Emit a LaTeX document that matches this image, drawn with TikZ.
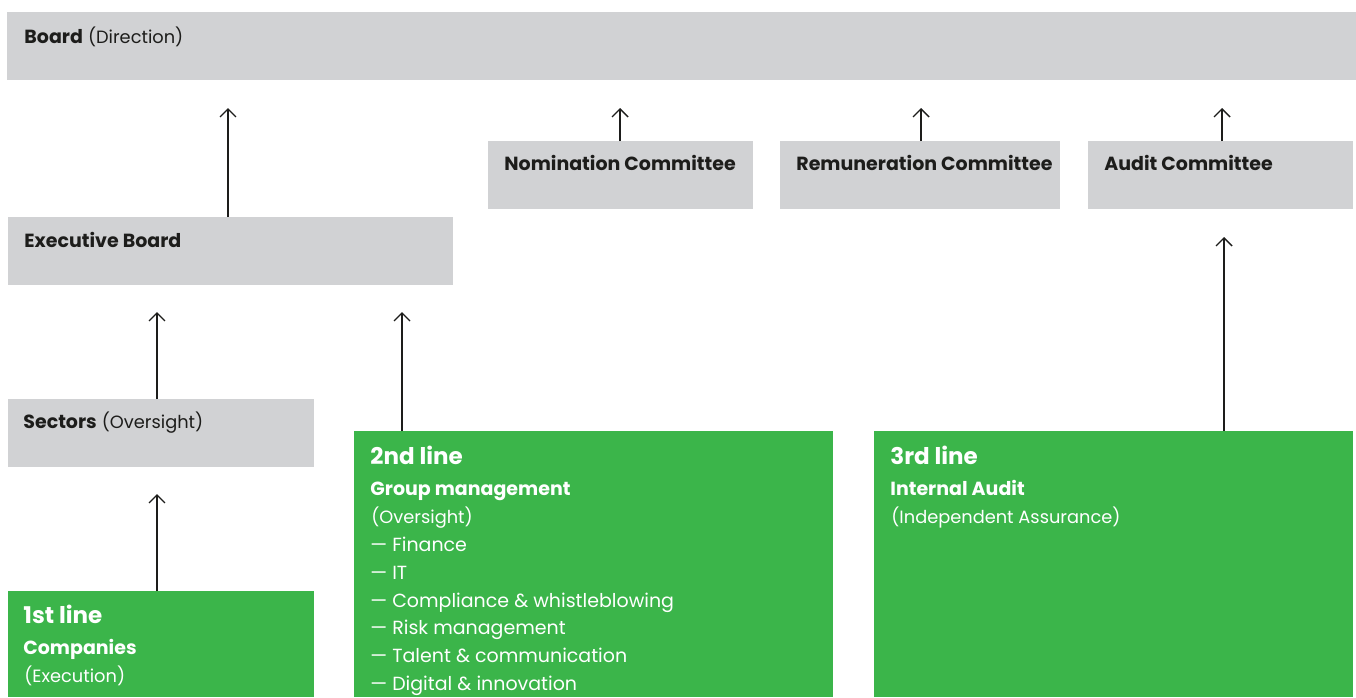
\documentclass[tikz,border=0pt]{standalone}
\usepackage{fontspec}
\setmainfont{Poppins}
\usetikzlibrary{arrows.meta}
\definecolor{boxgray}{HTML}{D1D2D4}
\definecolor{linegreen}{HTML}{3BB54A}
\definecolor{inkdark}{HTML}{1D1D1B}
\newcommand{\paren}[1]{{\fontsize{8.9}{11}\selectfont(#1)}}
\tikzset{
  graybox/.style={fill=boxgray, draw=none, anchor=north west, inner sep=0pt},
  greenbox/.style={fill=linegreen, draw=none, anchor=north west, inner sep=0pt},
  lbl/.style={anchor=base west, inner sep=0pt, font=\fontsize{9.5}{11}\selectfont},
  hdl/.style={anchor=base west, inner sep=0pt, font=\fontsize{11.5}{13}\selectfont\bfseries},
  up/.style={draw=inkdark, line width=0.7pt, -{Straight Barb[length=4pt,width=8pt]}}
}
\begin{document}
\begin{tikzpicture}[x=0.5pt,y=-0.5pt]
  \useasboundingbox (0,0) rectangle (1356,697);
  % boxes
  \node[graybox, minimum width=674.5pt, minimum height=34pt] (board) at (7,12) {};
  \node[graybox, minimum width=132.5pt, minimum height=34pt] (nom) at (488,141) {};
  \node[graybox, minimum width=140pt, minimum height=34pt] (rem) at (780,141) {};
  \node[graybox, minimum width=132.5pt, minimum height=34pt] (aud) at (1088,141) {};
  \node[graybox, minimum width=222.5pt, minimum height=34pt] (exec) at (8,217) {};
  \node[graybox, minimum width=153pt, minimum height=34pt] (sect) at (8,399) {};
  \node[greenbox, minimum width=153pt, minimum height=53pt] (first) at (8,591) {};
  \node[greenbox, minimum width=239.5pt, minimum height=133pt] (second) at (354,431) {};
  \node[greenbox, minimum width=239.5pt, minimum height=133pt] (third) at (874,431) {};
  % gray labels
  \node[lbl, text=inkdark] (tboard) at (24,43) {\textbf{Board} \paren{Direction}};
  \node[lbl, text=inkdark] (tnom) at (504,170) {\textbf{Nomination Committee}};
  \node[lbl, text=inkdark] (trem) at (796,170) {\textbf{Remuneration Committee}};
  \node[lbl, text=inkdark] (taud) at (1104,170) {\textbf{Audit Committee}};
  \node[lbl, text=inkdark] (texec) at (24,247) {\textbf{Executive Board}};
  \node[lbl, text=inkdark] (tsect) at (23,428) {\textbf{Sectors} \paren{Oversight}};
  % 1st line
  \node[hdl, text=white] (h1) at (23,623) {1st line};
  \node[lbl, text=white] (c1) at (23,654) {\textbf{Companies}};
  \node[lbl, text=white] (e1) at (24,682) {\paren{Execution}};
  % 2nd line
  \node[hdl, text=white] (h2) at (370,464) {2nd line};
  \node[lbl, text=white] (g2) at (370,495) {\textbf{Group management}};
  \node[lbl, text=white] (o2) at (371,523) {\paren{Oversight}};
  \node[lbl, text=white] (i1) at (370,551) {— Finance};
  \node[lbl, text=white] (i2) at (370,579) {— IT};
  \node[lbl, text=white] (i3) at (370,607) {— Compliance \& whistleblowing};
  \node[lbl, text=white] (i4) at (370,634) {— Risk management};
  \node[lbl, text=white] (i5) at (370,662) {— Talent \& communication};
  \node[lbl, text=white] (i6) at (370,690) {— Digital \& innovation};
  % 3rd line
  \node[hdl, text=white] (h3) at (890,464) {3rd line};
  \node[lbl, text=white] (a3) at (890,495) {\textbf{Internal Audit}};
  \node[lbl, text=white] (s3) at (891,523) {\paren{Independent Assurance}};
  % arrow tips
  \coordinate (tipexec) at (228,108);
  \coordinate (tipnom) at (620,108);
  \coordinate (tiprem) at (921,108);
  \coordinate (tipaud) at (1222,108);
  \coordinate (tipsect) at (157,312);
  \coordinate (tipsecond) at (402,312);
  \coordinate (tipfirst) at (157,494);
  \coordinate (tipthird) at (1224,237);
  % arrows
  \draw[up] (exec.north -| tipexec) -- (tipexec);
  \draw[up] (nom.north -| tipnom) -- (tipnom);
  \draw[up] (rem.north -| tiprem) -- (tiprem);
  \draw[up] (aud.north -| tipaud) -- (tipaud);
  \draw[up] (sect.north -| tipsect) -- (tipsect);
  \draw[up] (second.north -| tipsecond) -- (tipsecond);
  \draw[up] (first.north -| tipfirst) -- (tipfirst);
  \draw[up] (third.north -| tipthird) -- (tipthird);
\end{tikzpicture}
\end{document}
